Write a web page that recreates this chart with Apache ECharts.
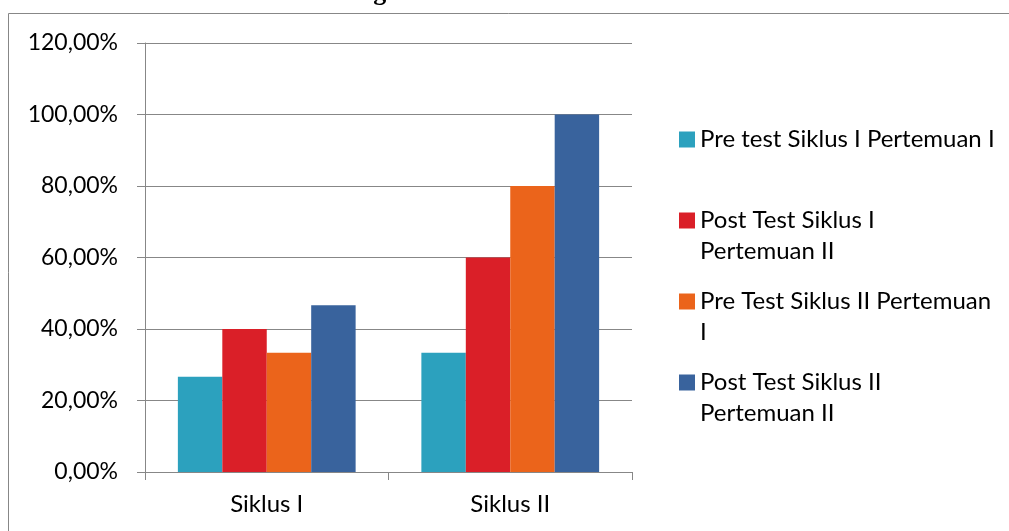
<!DOCTYPE html>
<html>
<head>
<meta charset="utf-8">
<script src="https://cdn.jsdelivr.net/npm/echarts@6/dist/echarts.min.js"></script>
<style>
  html, body { margin: 0; padding: 0; background: #fff; overflow: hidden; }
  #chart { width: 1009px; height: 531px; }
</style>
</head>
<body>
<div id="chart"></div>
<script>
// data
const categories = ['Siklus I', 'Siklus II'];
const seriesNames = [
  'Pre test Siklus I Pertemuan I',
  'Post Test Siklus I Pertemuan II',
  'Pre Test Siklus II Pertemuan I',
  'Post Test Siklus II Pertemuan II'
];
// legend text as wrapped in the picture
const legendLabels = [
  'Pre test Siklus I Pertemuan I',
  'Post Test Siklus I\nPertemuan II',
  'Pre Test Siklus II Pertemuan\nI',
  'Post Test Siklus II\nPertemuan II'
];
const preTest1 = [26.67, 33.33];
const postTest1 = [40.0, 60.0];
const preTest2 = [33.33, 80.0];
const postTest2 = [46.67, 100.0];
const yTicks = [0, 20, 40, 60, 80, 100, 120];

const colors = ['#2CA1BE', '#DA1F28', '#EB641B', '#39639D'];
const gray = '#878787';
const font = 'Lato';

const chart = echarts.init(document.getElementById('chart'), null, { renderer: 'canvas' });

const values = [preTest1, postTest1, preTest2, postTest2];

chart.setOption({
  animation: false,
  color: colors,
  textStyle: { fontFamily: font },
  graphic: [
    {
      // outer chart frame, only top and left edges are in view
      type: 'polyline',
      shape: { points: [[8.5, 531], [8.5, 13.5], [1009, 13.5]] },
      style: { fill: null, stroke: gray, lineWidth: 1 },
      silent: true
    },
    {
      // title, mostly cut off at the top
      type: 'text',
      x: 500,
      y: 6,
      style: {
        text: 'Peningkatan Siklus I dan Siklus II',
        font: 'bold 26px "Liberation Serif"',
        fill: '#000',
        textAlign: 'center',
        textVerticalAlign: 'bottom'
      },
      silent: true
    }
  ],
  grid: { left: 145, right: 377, top: 43, bottom: 59, containLabel: false },
  legend: {
    orient: 'vertical',
    left: 674,
    top: 88,
    itemWidth: 16,
    itemHeight: 16,
    itemGap: -12,
    icon: 'rect',
    data: seriesNames,
    formatter: function (name) {
      // pad every entry to three lines so the marker sits on the first line
      const lbl = legendLabels[seriesNames.indexOf(name)];
      const lines = lbl.split('\n');
      return '\n' + lines.join('\n') + (lines.length === 1 ? '\n ' : '');
    },
    textStyle: { fontFamily: font, fontSize: 24, color: '#000', lineHeight: 31 }
  },
  xAxis: {
    type: 'category',
    data: categories,
    axisLine: { lineStyle: { color: gray, width: 1 } },
    axisTick: { show: true, length: 8, lineStyle: { color: gray } },
    axisLabel: { color: '#000', fontFamily: font, fontSize: 24, margin: 20 },
    splitLine: { show: false }
  },
  yAxis: {
    type: 'value',
    min: yTicks[0],
    max: yTicks[yTicks.length - 1],
    interval: 20,
    axisLine: { show: true, lineStyle: { color: gray, width: 1 } },
    axisTick: { show: true, length: 8, lineStyle: { color: gray } },
    axisLabel: {
      color: '#000',
      fontFamily: font,
      fontSize: 23,
      margin: 27,
      formatter: function (v) { return v.toFixed(2).replace('.', ',') + '%'; }
    },
    splitLine: { show: true, lineStyle: { color: gray, width: 1 } }
  },
  series: seriesNames.map(function (name, i) {
    return {
      name: name,
      type: 'bar',
      data: values[i],
      barGap: '0%',
      barCategoryGap: '27%',
      itemStyle: { color: colors[i] }
    };
  })
});
</script>
</body>
</html>
